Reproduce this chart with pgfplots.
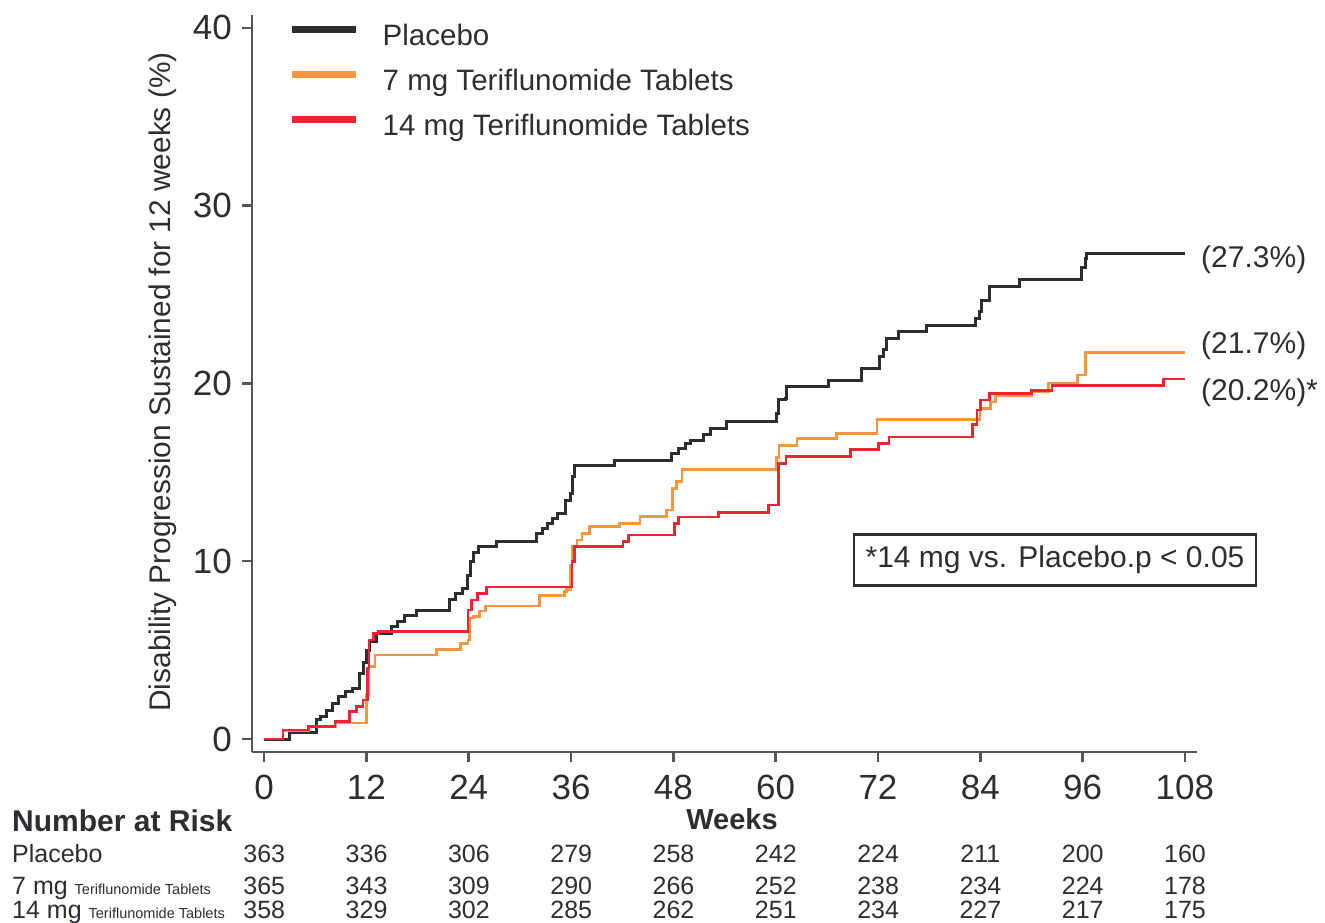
\documentclass[border=0pt]{standalone}
\usepackage{fontspec}
\setmainfont{Liberation Sans}
\usepackage{pgfplots}
\pgfplotsset{compat=1.18}

\definecolor{placebo}{RGB}{45,45,45}
\definecolor{sevenmg}{RGB}{247,148,64}
\definecolor{fourteenmg}{RGB}{236,38,48}
\definecolor{axisgray}{RGB}{85,85,85}
\definecolor{txt}{RGB}{45,45,50}

\begin{document}
\begin{tikzpicture}
\useasboundingbox (0,0) rectangle (1325pt,922pt);
\begin{axis}[
  at={(252pt,170pt)}, anchor=south west,
  scale only axis, width=945pt, height=737pt,
  xmin=-1.42, xmax=109.42, ymin=-0.73, ymax=40.72,
  axis lines=left,
  axis line style={-, axisgray, line width=2.5pt},
  xtick={0,12,...,108}, ytick={0,10,...,40},
  tick align=outside, major tick length=10pt,
  tick style={axisgray, line width=2.5pt},
  ticklabel style={font=\fontsize{35}{40}\selectfont, text=txt},
  /pgf/number format/assume math mode=true,
  xticklabel style={inner sep=0pt, yshift=-13pt},
  yticklabel style={inner sep=0pt, xshift=-10pt},
  clip=false,
  legend style={at={(0.0392,0.9885)}, anchor=north west, draw=none, fill=none,
    inner sep=0pt, row sep=17pt,
    font=\fontsize{29.5}{34}\selectfont, text=txt,
    nodes={inner sep=0pt, text height=22pt, text depth=6pt},
    /tikz/every odd column/.append style={column sep=23pt}},
  legend cell align=left,
  legend image code/.code={\draw[#1, line width=6.5pt] (0pt,8pt) -- (64pt,8pt);},
]
\addplot[const plot mark left, placebo, line width=3pt] coordinates {
(0,0) (3.0,0.35) (6.1,1.07) (6.6,1.25) (7.3,1.63) (8.0,2.0) (8.7,2.38) (9.5,2.66)
(10.4,2.85) (11.2,3.69) (11.6,4.3) (12.0,5.0) (12.4,5.47) (13.2,5.94) (14.9,6.32)
(15.6,6.6) (16.5,6.97) (17.9,7.25) (21.8,7.82) (22.5,8.2) (23.3,8.48) (23.9,9.2)
(24.2,9.97) (24.6,10.5) (25.1,10.82) (27.3,11.1) (31.95,11.57) (32.6,11.85)
(33.2,12.1) (33.8,12.4) (34.4,12.7) (35.3,13.44) (35.9,13.8) (36.2,14.75)
(36.45,15.41) (41.1,15.69) (47.8,16.07) (48.6,16.35) (49.4,16.63) (50.0,16.8)
(51.5,17.1) (52.3,17.45) (54.2,17.85) (60.1,18.32) (60.3,19.07) (61.1,19.16)
(61.3,19.82) (66.2,20.19) (70.1,20.85) (72.2,21.5) (72.6,21.88) (73.0,22.54)
(74.4,22.91) (77.7,23.28) (83.4,23.66) (83.95,24.03) (84.2,24.69) (85.1,25.44)
(88.6,25.86) (95.9,26.5) (96.3,27.0) (96.5,27.28) (108,27.28)
};
\addlegendentry{Placebo}
\addplot[const plot mark left, sevenmg, line width=2.7pt] coordinates {
(0,0) (2.2,0.47) (5.2,0.69) (8.4,0.9) (12.0,2.5) (12.3,4.07) (13.0,4.72)
(20.2,5.02) (23.0,5.38) (23.9,5.57) (24.1,6.8) (24.6,6.88) (25.3,7.2) (26.0,7.48)
(32.3,8.06) (35.2,8.28) (35.5,8.4) (35.9,9.79) (36.1,10.82) (36.7,11.19)
(37.3,11.57) (38.2,11.94) (41.7,12.13) (44.1,12.5) (47.2,12.88) (47.9,14.1)
(48.4,14.5) (49.0,15.17) (60.1,15.83) (60.4,16.5) (62.5,16.91) (67.1,17.19)
(71.9,17.96) (83.95,18.6) (85.2,18.95) (85.8,19.32) (90.0,19.53) (92.0,20.02)
(95.4,20.47) (96.3,21.75) (108,21.75)
};
\addlegendentry{7 mg Teriflunomide Tablets}
\addplot[const plot mark left, fourteenmg, line width=2.7pt] coordinates {
(0,0) (2.2,0.51) (5.2,0.69) (8.3,0.97) (10.05,1.54) (10.8,1.82) (11.6,2.19)
(12.1,4.0) (12.3,5.57) (12.8,5.94) (13.4,6.03) (23.9,7.25) (24.3,7.82) (25.0,8.2)
(26.1,8.55) (36.1,10.0) (36.4,10.82) (42.1,11.1) (42.7,11.47) (48.1,12.13)
(48.6,12.48) (53.3,12.73) (59.2,13.16) (60.3,15.5) (61.2,15.9) (68.8,16.3)
(72.1,16.63) (73.3,16.98) (83.1,17.7) (83.6,18.5) (84.0,19.07) (85.1,19.44)
(90.0,19.6) (92.4,19.88) (105.5,20.25) (108,20.25)
};
\addlegendentry{14 mg Teriflunomide Tablets}
\end{axis}

% axis title and annotations
\node[rotate=90, text=txt, font=\fontsize{29.8}{34}\selectfont] at (163pt,540pt)
  {Disability Progression Sustained for 12 weeks (\%)};
\begin{scope}[every node/.style={text=txt, font=\fontsize{30}{34}\selectfont, inner sep=0pt}]
\node[anchor=west] at (1201pt,662pt) {(27.3\%)};
\node[anchor=west] at (1201pt,576pt) {(21.7\%)};
\node[anchor=west] at (1201pt,529pt) {(20.2\%)*};
\node[draw=placebo, line width=2.2pt, minimum width=402pt, minimum height=51pt]
  at (1055pt,362pt) {*14 mg vs. Placebo.p < 0.05};
\node[anchor=base, font=\bfseries\fontsize{29}{34}\selectfont] at (732pt,93pt) {Weeks};
\node[anchor=base west, font=\bfseries\fontsize{30}{34}\selectfont] at (12pt,91pt) {Number at Risk};
\end{scope}

% number at risk table
\begin{scope}[every node/.style={text=txt, font=\fontsize{25}{30}\selectfont, inner sep=0pt}]
\node[anchor=base west] at (12pt,60pt) {Placebo};
\node[anchor=base west] at (12pt,28pt) {7 mg {\fontsize{14.5}{17}\selectfont Teriflunomide Tablets}};
\node[anchor=base west] at (12pt,4pt) {14 mg {\fontsize{14.5}{17}\selectfont Teriflunomide Tablets}};
\foreach \n [count=\i from 0] in {363,336,306,279,258,242,224,211,200,160}
  \node[anchor=base] at ({264.3pt+102.3pt*\i},60pt) {\n};
\foreach \n [count=\i from 0] in {365,343,309,290,266,252,238,234,224,178}
  \node[anchor=base] at ({264.3pt+102.3pt*\i},28pt) {\n};
\foreach \n [count=\i from 0] in {358,329,302,285,262,251,234,227,217,175}
  \node[anchor=base] at ({264.3pt+102.3pt*\i},4pt) {\n};
\end{scope}
\end{tikzpicture}
\end{document}
